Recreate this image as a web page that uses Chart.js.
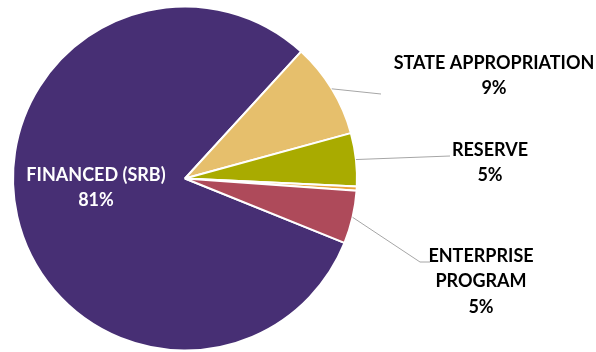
<!DOCTYPE html>
<html lang="en">
<head>
    <meta charset="UTF-8">
    <title>Funding Sources</title>
    <script src="https://cdn.jsdelivr.net/npm/chart.js"></script>
    <style>
        html, body { margin: 0; padding: 0; background: #ffffff; }
        #wrap { width: 596px; height: 352px; }
    </style>
</head>
<body>
    <div id="wrap"><canvas id="fundingChart"></canvas></div>

    <script>
        // Funding sources (percent of total)
        const sources = ['FINANCED (SRB)', 'STATE APPROPRIATION', 'RESERVE', 'OTHER', 'ENTERPRISE PROGRAM'];
        const shares = [81, 9, 5, 0.4, 5];
        const sliceColors = ['#472F74', '#E6BF6C', '#A9AB00', '#E9A23B', '#AE4A5A'];

        // Label text lines and where each label sits (null = no label)
        const labelLines = [
            ['FINANCED (SRB)', '81%'],
            ['STATE APPROPRIATION', '9%'],
            ['RESERVE', '5%'],
            null,
            ['ENTERPRISE', 'PROGRAM', '5%']
        ];
        const labelSpots = [
            { x: 96, y: 175, color: '#ffffff', leader: null },
            { x: 494, y: 63, color: '#000000', leader: [[381, 94]] },
            { x: 490, y: 150, color: '#000000', leader: [[450, 156]] },
            null,
            { x: 481, y: 256, color: '#000000', leader: [[420, 262], [430, 262]] }
        ];

        // Draws leader lines from slice edges and the bold labels
        const sliceLabels = {
            id: 'sliceLabels',
            afterDatasetsDraw(chart) {
                const ctx = chart.ctx;
                const arcs = chart.getDatasetMeta(0).data;
                ctx.save();
                arcs.forEach((arc, i) => {
                    const spot = labelSpots[i];
                    if (!spot) return;
                    if (spot.leader) {
                        const mid = (arc.startAngle + arc.endAngle) / 2;
                        const sx = arc.x + Math.cos(mid) * arc.outerRadius;
                        const sy = arc.y + Math.sin(mid) * arc.outerRadius;
                        ctx.strokeStyle = '#A6A6A6';
                        ctx.lineWidth = 1;
                        ctx.beginPath();
                        ctx.moveTo(sx, sy);
                        spot.leader.forEach(p => ctx.lineTo(p[0], p[1]));
                        ctx.stroke();
                    }
                    ctx.fillStyle = spot.color;
                    ctx.font = 'bold 18px Lato';
                    ctx.textAlign = 'center';
                    ctx.textBaseline = 'middle';
                    labelLines[i].forEach((line, k) => {
                        ctx.fillText(line, spot.x, spot.y + k * 25.5);
                    });
                });
                ctx.restore();
            }
        };

        new Chart(document.getElementById('fundingChart'), {
            type: 'pie',
            data: {
                labels: sources,
                datasets: [{
                    data: shares,
                    backgroundColor: sliceColors,
                    borderColor: '#ffffff',
                    borderWidth: 2
                }]
            },
            options: {
                responsive: true,
                maintainAspectRatio: false,
                animation: false,
                rotation: 112,
                layout: {
                    padding: { left: 12, right: 238, top: 5, bottom: 0 }
                },
                plugins: {
                    legend: { display: false },
                    tooltip: { enabled: false }
                }
            },
            plugins: [sliceLabels]
        });
    </script>
</body>
</html>
